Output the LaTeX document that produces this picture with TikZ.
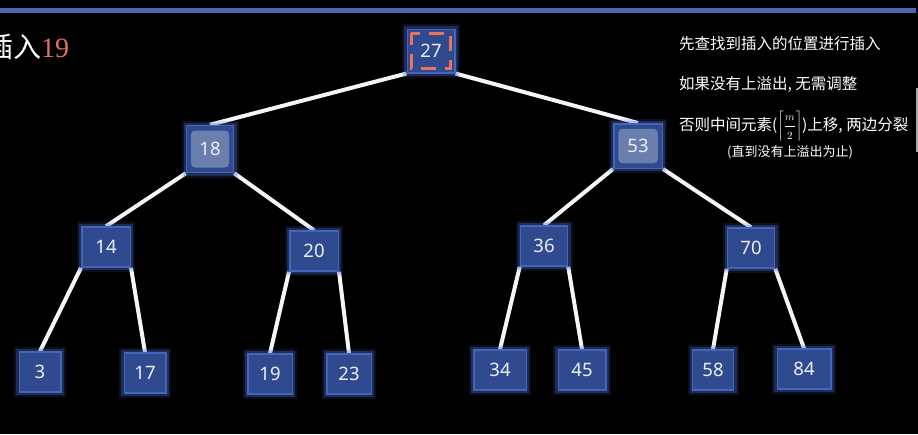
\documentclass[tikz,border=0pt]{standalone}
\usepackage{fontspec}
\setmainfont{Noto Sans}
\newfontfamily\cjk{Noto Sans CJK SC}
\newfontfamily\serif{Liberation Serif}
\definecolor{barblue}{HTML}{4A65B4}
\definecolor{keyblue}{HTML}{2F4A8E}
\definecolor{haloblue}{HTML}{4F70D0}
\definecolor{keyhl}{HTML}{6A7FAE}
\definecolor{markred}{HTML}{E8735F}
\definecolor{numred}{HTML}{E07060}
\definecolor{keytext}{HTML}{EDEFF5}
\pgfdeclarelayer{back}
\pgfsetlayers{back,main}
\begin{document}
\begin{tikzpicture}[x=1pt, y=-1pt,
  key/.style={rectangle, fill=keyblue, minimum width=47pt, minimum height=40pt, inner sep=0pt,
    text=keytext, font=\fontsize{18.5}{20}\selectfont,
    preaction={draw=haloblue, draw opacity=.15, line width=10pt},
    preaction={draw=haloblue, draw opacity=.3, line width=6pt},
    draw=haloblue!70!keyblue, line width=1.5pt},
  keysel/.style={path picture={\fill[keyhl, rounded corners=4pt]
    ([shift={(4.5pt,-5pt)}]path picture bounding box.north west) rectangle
    ([shift={(-4.5pt,5pt)}]path picture bounding box.south east);}},
  rootmark/.style={path picture={\draw[markred, line width=3.2pt, dash pattern=on 15pt off 9pt, dash phase=3pt]
    ([shift={(4pt,-4pt)}]path picture bounding box.north west) rectangle
    ([shift={(-4pt,4pt)}]path picture bounding box.south east);}},
  edge/.style={white!92!gray, line width=4pt},
  note/.style={anchor=base west, inner sep=0pt, text=white, font=\cjk\fontsize{15.5}{18}\selectfont}]
 \useasboundingbox (0,0) rectangle (918,434);
 % keys
 \node[key, rootmark, minimum width=47.5pt, minimum height=43.5pt] (n27) at (431,51) {27};
 \node[key, keysel, minimum height=47pt] (n18) at (210,149) {18};
 \node[key, keysel, minimum width=48.5pt, minimum height=44.5pt] (n53) at (638,146) {53};
 \node[key, minimum width=48.5pt] (n14) at (106,247) {14};
 \node[key, minimum width=48.5pt] (n20) at (314,251) {20};
 \node[key] (n36) at (544,246) {36};
 \node[key] (n70) at (751,248) {70};
 \node[key, minimum width=41.5pt] (n3) at (40,372) {3};
 \node[key, minimum width=41.5pt] (n17) at (145,373) {17};
 \node[key, minimum width=44.5pt] (n19) at (270,374) {19};
 \node[key, minimum width=44.5pt] (n23) at (349,374) {23};
 \node[key, minimum width=52.5pt] (n34) at (500,370) {34};
 \node[key, minimum width=47.5pt] (n45) at (582,370) {45};
 \node[key, minimum width=41pt] (n58) at (713,370) {58};
 \node[key, minimum width=53.5pt] (n84) at (804,369) {84};
 % links
 \begin{pgfonlayer}{back}
 \fill[black] (0,0) rectangle (918,434);
 \draw[edge] (n27.south west) -- (n18.north);
 \draw[edge] (n27.south east) -- (n53.north);
 \draw[edge] (n18.south west) -- (n14.north);
 \draw[edge] (n18.south east) -- (n20.north);
 \draw[edge] (n53.south west) -- (n36.north);
 \draw[edge] (n53.south east) -- (n70.north);
 \draw[edge] (n14.south west) -- (n3.north);
 \draw[edge] (n14.south east) -- (n17.north);
 \draw[edge] (n20.south west) -- (n19.north);
 \draw[edge] (n20.south east) -- (n23.north);
 \draw[edge] (n36.south west) -- (n34.north);
 \draw[edge] (n36.south east) -- (n45.north);
 \draw[edge] (n70.south west) -- (n58.north);
 \draw[edge] (n70.south east) -- (n84.north);
 \end{pgfonlayer}
 % frame bits
 \fill[barblue] (0,8) rectangle (916,12.5);
 \draw[gray!70, line width=1.5pt] (917,88) -- (917,152);
 % texts
 \node[anchor=base west, inner sep=0pt, text=white, font=\fontsize{28}{32}\selectfont] (title) at (-15,57)
   {\cjk 插入\serif\textcolor{numred}{19}};
 \node[note] (note1) at (679,49) {先查找到插入的位置进行插入};
 \node[note] (note2) at (679,89) {如果没有上溢出, 无需调整};
 \node[note] (note3) at (679,130) {否则中间元素($\displaystyle\left\lceil\frac{\scriptstyle m}{\scriptstyle 2}\right\rceil$)上移, 两边分裂};
 \node[note, font=\cjk\fontsize{13}{16}\selectfont] (note4) at (727,156) {(直到没有上溢出为止)};
\end{tikzpicture}
\end{document}
